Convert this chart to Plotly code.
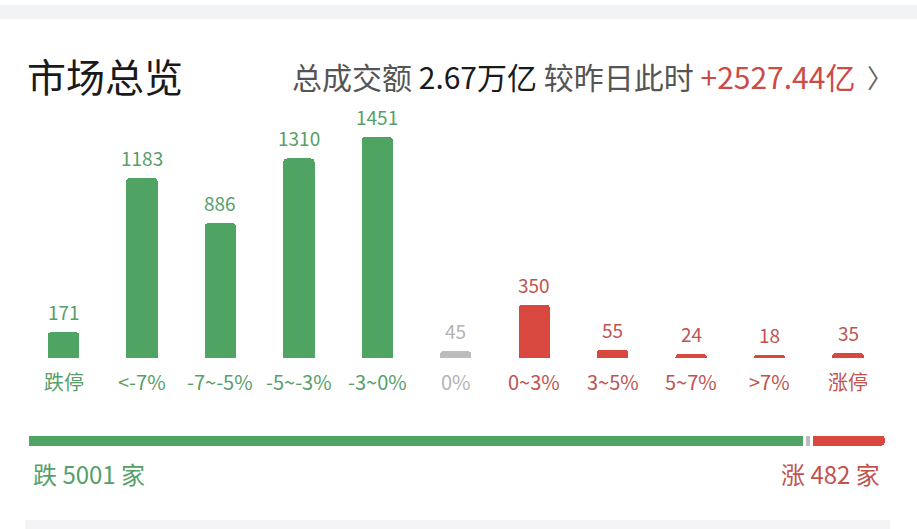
import plotly.graph_objects as go

# ---- data ----
categories = ["跌停", "<-7%", "-7~-5%", "-5~-3%", "-3~0%", "0%", "0~3%", "3~5%", "5~7%", ">7%", "涨停"]
counts = [171, 1183, 886, 1310, 1451, 45, 350, 55, 24, 18, 35]
direction = ["down"] * 5 + ["flat"] + ["up"] * 5
title_text = "市场总览"
turnover_label = "总成交额"
turnover_value = "2.67万亿"
compare_label = "较昨日此时"
compare_value = "+2527.44亿"

W, H = 917, 529
FONT = "Noto Sans CJK SC"
bar_colors = {"down": "#4fa463", "flat": "#bcbcbc", "up": "#d8483f"}
text_colors = {"down": "#569f68", "flat": "#b3b3b3", "up": "#c0534e"}

down_total = sum(c for c, d in zip(counts, direction) if d == "down")
flat_total = sum(c for c, d in zip(counts, direction) if d == "flat")
up_total = sum(c for c, d in zip(counts, direction) if d == "up")

xs = list(range(len(categories)))

def px(x):
    return x / W

def py(y):
    return 1 - y / H

sp = 78.45
c0 = 63.5
xr = [-c0 / sp, (W - c0) / sp]
k = 0.1523
yr = [-(H - 358) / k, 358 / k]

fig = go.Figure()
fig.add_trace(go.Bar(
    x=xs, y=counts, width=0.40,
    marker=dict(color=[bar_colors[d] for d in direction], line=dict(width=0)),
    hoverinfo="skip", showlegend=False,
))

for val, d in [(down_total, "down"), (flat_total, "flat"), (up_total, "up")]:
    fig.add_trace(go.Bar(
        x=[val], y=[0], orientation="h", xaxis="x2", yaxis="y2", width=1,
        marker=dict(color=bar_colors[d], line=dict(color="white", width=3)),
        hoverinfo="skip", showlegend=False,
    ))

annotations = []
for x, c, d in zip(xs, counts, direction):
    annotations.append(dict(x=x, y=c, xref="x", yref="y", text=str(c), showarrow=False,
                            yanchor="bottom", yshift=5,
                            font=dict(family=FONT, size=19, color=text_colors[d])))
for x, cat, d in zip(xs, categories, direction):
    annotations.append(dict(x=x, y=0, xref="x", yref="y", text=cat, showarrow=False,
                            yanchor="middle", yshift=-23,
                            font=dict(family=FONT, size=20, color=text_colors[d])))

annotations.append(dict(x=px(25), y=py(75), xref="paper", yref="paper", xanchor="left", yanchor="middle",
                        text=title_text, showarrow=False,
                        font=dict(family=FONT, size=39, color="#1a1a1a")))
header = (f"<span style='color:#555555'>{turnover_label}</span> "
          f"<span style='color:#1a1a1a'>{turnover_value}</span> "
          f"<span style='color:#555555'>{compare_label}</span> "
          f"<span style='color:#cc4b45'>{compare_value}</span>")
annotations.append(dict(x=px(857), y=py(76), xref="paper", yref="paper", xanchor="right", yanchor="middle",
                        text=header, showarrow=False,
                        font=dict(family=FONT, size=30, color="#555555")))
annotations.append(dict(x=px(880), y=py(76), xref="paper", yref="paper", xanchor="center", yanchor="middle",
                        text="〉", showarrow=False,
                        font=dict(family=FONT, size=26, color="#666666")))
annotations.append(dict(x=px(31), y=py(473), xref="paper", yref="paper", xanchor="left", yanchor="middle",
                        text=f"跌 {down_total} 家", showarrow=False,
                        font=dict(family=FONT, size=24, color=text_colors["down"])))
annotations.append(dict(x=px(882), y=py(473), xref="paper", yref="paper", xanchor="right", yanchor="middle",
                        text=f"涨 {up_total} 家", showarrow=False,
                        font=dict(family=FONT, size=24, color=text_colors["up"])))

shapes = [
    dict(type="rect", xref="paper", yref="paper", x0=0, x1=1, y0=py(19), y1=py(5),
         fillcolor="#f2f3f5", line=dict(width=0), layer="below"),
    dict(type="rect", xref="paper", yref="paper", x0=px(25), x1=px(890), y0=py(535), y1=py(520),
         fillcolor="#f4f4f6", line=dict(width=0), layer="below"),
]

fig.update_layout(
    width=W, height=H, margin=dict(l=0, r=0, t=0, b=0),
    paper_bgcolor="white", plot_bgcolor="rgba(0,0,0,0)",
    barmode="stack", barcornerradius=4,
    xaxis=dict(range=xr, visible=False, fixedrange=True),
    yaxis=dict(range=yr, visible=False, fixedrange=True),
    xaxis2=dict(domain=[px(27), px(886)], range=[0, down_total + flat_total + up_total],
                anchor="y2", visible=False, fixedrange=True),
    yaxis2=dict(domain=[py(447), py(434)], range=[-0.5, 0.5], anchor="x2", visible=False, fixedrange=True),
    annotations=annotations, shapes=shapes, showlegend=False,
    font=dict(family=FONT),
)

fig.write_html("out.html", config={"displayModeBar": False})
